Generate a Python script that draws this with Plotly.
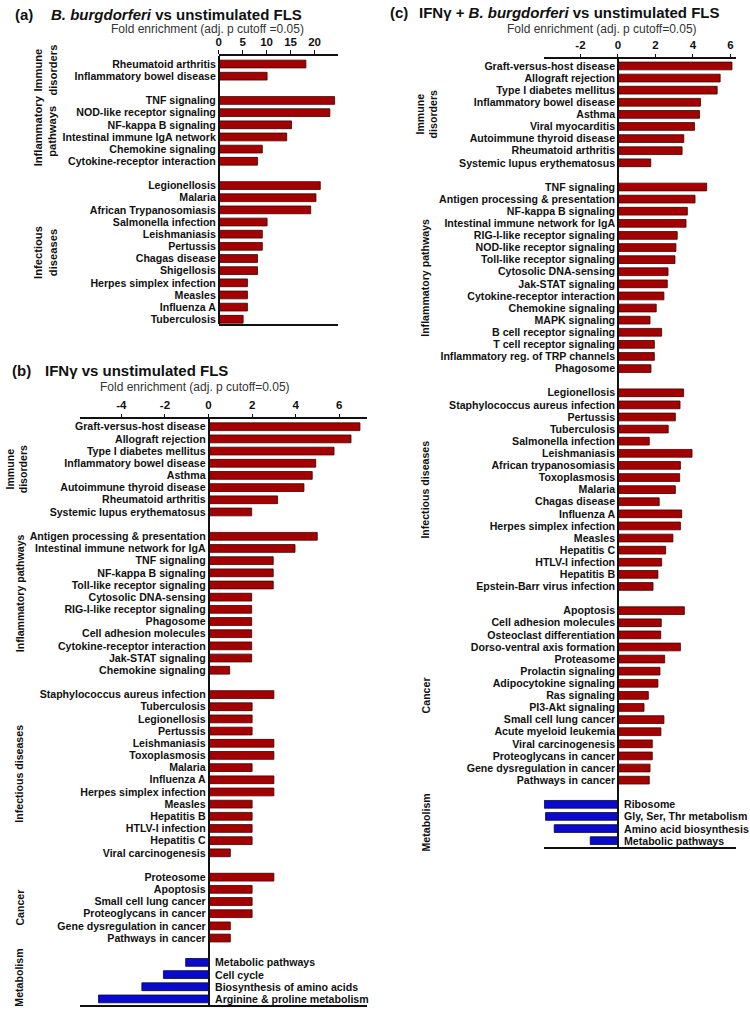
import plotly.graph_objects as go

# ---------------- DATA ----------------
# Panel (a): B. burgdorferi vs unstimulated FLS
a_immune_labels = ["Rheumatoid arthritis", "Inflammatory bowel disease"]
a_immune_values = [18.2, 10.1]
a_inflam_labels = ["TNF signaling", "NOD-like receptor signaling", "NF-kappa B signaling",
                   "Intestinal immune IgA network", "Chemokine signaling", "Cytokine-receptor interaction"]
a_inflam_values = [24.2, 23.2, 15.2, 14.2, 9.1, 8.1]
a_infect_labels = ["Legionellosis", "Malaria", "African Trypanosomiasis", "Salmonella infection",
                   "Leishmaniasis", "Pertussis", "Chagas disease", "Shigellosis",
                   "Herpes simplex infection", "Measles", "Influenza A", "Tuberculosis"]
a_infect_values = [21.2, 20.3, 19.2, 10.1, 9.1, 9.1, 8.1, 8.1, 6.0, 6.0, 6.0, 5.1]
a_xticks = [0, 5, 10, 15, 20]

# Panel (b): IFNγ vs unstimulated FLS
b_immune_labels = ["Graft-versus-host disease", "Allograft rejection", "Type I diabetes mellitus",
                   "Inflammatory bowel disease", "Asthma", "Autoimmune thyroid disease",
                   "Rheumatoid arthritis", "Systemic lupus erythematosus"]
b_immune_values = [6.95, 6.54, 5.76, 4.92, 4.76, 4.38, 3.17, 1.98]
b_inflam_labels = ["Antigen processing & presentation", "Intestinal immune network for IgA",
                   "TNF signaling", "NF-kappa B signaling", "Toll-like receptor signaling",
                   "Cytosolic DNA-sensing", "RIG-I-like receptor signaling", "Phagosome",
                   "Cell adhesion molecules", "Cytokine-receptor interaction", "Jak-STAT signaling",
                   "Chemokine signaling"]
b_inflam_values = [4.99, 3.97, 2.97, 2.97, 2.97, 1.98, 1.98, 1.98, 1.98, 1.98, 1.98, 0.97]
b_infect_labels = ["Staphylococcus aureus infection", "Tuberculosis", "Legionellosis", "Pertussis",
                   "Leishmaniasis", "Toxoplasmosis", "Malaria", "Influenza A",
                   "Herpes simplex infection", "Measles", "Hepatitis B", "HTLV-I infection",
                   "Hepatitis C", "Viral carcinogenesis"]
b_infect_values = [3.0, 2.0, 2.0, 2.0, 3.0, 3.0, 2.0, 3.0, 3.0, 2.0, 2.0, 2.0, 2.0, 1.0]
b_cancer_labels = ["Proteosome", "Apoptosis", "Small cell lung cancer", "Proteoglycans in cancer",
                   "Gene dysregulation in cancer", "Pathways in cancer"]
b_cancer_values = [3.0, 2.0, 2.0, 2.0, 1.0, 1.0]
b_metab_labels = ["Metabolic pathways", "Cell cycle", "Biosynthesis of amino acids",
                  "Arginine & proline metabolism"]
b_metab_values = [-1.05, -2.07, -3.06, -5.05]
b_xticks = [-4, -2, 0, 2, 4, 6]

# Panel (c): IFNγ + B. burgdorferi vs unstimulated FLS
c_immune_labels = ["Graft-versus-host disease", "Allograft rejection", "Type I diabetes mellitus",
                   "Inflammatory bowel disease", "Asthma", "Viral myocarditis",
                   "Autoimmune thyroid disease", "Rheumatoid arthritis", "Systemic lupus erythematosus"]
c_immune_values = [6.08, 5.45, 5.29, 4.4, 4.35, 4.08, 3.51, 3.42, 1.75]
c_inflam_labels = ["TNF signaling", "Antigen processing & presentation", "NF-kappa B signaling",
                   "Intestinal immune network for IgA", "RIG-I-like receptor signaling",
                   "NOD-like receptor signaling", "Toll-like receptor signaling", "Cytosolic DNA-sensing",
                   "Jak-STAT signaling", "Cytokine-receptor interaction", "Chemokine signaling",
                   "MAPK signaling", "B cell receptor signaling", "T cell receptor signaling",
                   "Inflammatory reg. of TRP channels", "Phagosome"]
c_inflam_values = [4.73, 4.11, 3.70, 3.63, 3.16, 3.09, 3.04, 2.67, 2.63, 2.45, 2.04, 1.71, 2.33,
                   1.94, 1.94, 1.76]
c_infect_labels = ["Legionellosis", "Staphylococcus aureus infection", "Pertussis", "Tuberculosis",
                   "Salmonella infection", "Leishmaniasis", "African trypanosomiasis", "Toxoplasmosis",
                   "Malaria", "Chagas disease", "Influenza A", "Herpes simplex infection", "Measles",
                   "Hepatitis C", "HTLV-I infection", "Hepatitis B", "Epstein-Barr virus infection"]
c_infect_values = [3.50, 3.31, 3.06, 2.68, 1.67, 3.95, 3.33, 3.29, 3.06, 2.20, 3.40, 3.33, 2.93,
                   2.54, 2.33, 2.13, 1.87]
c_cancer_labels = ["Apoptosis", "Cell adhesion molecules", "Osteoclast differentiation",
                   "Dorso-ventral axis formation", "Proteasome", "Prolactin signaling",
                   "Adipocytokine signaling", "Ras signaling", "PI3-Akt signaling",
                   "Small cell lung cancer", "Acute myeloid leukemia", "Viral carcinogenesis",
                   "Proteoglycans in cancer", "Gene dysregulation in cancer", "Pathways in cancer"]
c_cancer_values = [3.54, 2.31, 2.28, 3.33, 2.49, 2.24, 2.13, 1.62, 1.39, 2.45, 2.29, 1.83, 1.83,
                   1.71, 1.67]
c_metab_labels = ["Ribosome", "Gly, Ser, Thr metabolism", "Amino acid biosynthesis",
                  "Metabolic pathways"]
c_metab_values = [-3.93, -3.86, -3.40, -1.48]
c_xticks = [-2, 0, 2, 4, 6]

# ---------------- LAYOUT HELPERS ----------------
W, H = 750, 1012
FONT = "Liberation Sans, Arial, sans-serif"
RED, RED_LINE = "#a50000", "#3c0000"
BLUE, BLUE_LINE = "#0a0acd", "#000050"


def px(x):
    return x / W


def py(y):
    return 1 - y / H


fig = go.Figure()
annotations = []

panels = [
    dict(key="", groups=[("Immune<br>disorders", a_immune_labels, a_immune_values, False),
                         ("Inflammatory<br>pathways", a_inflam_labels, a_inflam_values, False),
                         ("Infectious<br>diseases", a_infect_labels, a_infect_values, False)],
         xticks=a_xticks, xrange=[0, 24.9], xdom=(218.7, 338.0), ydom=(56.0, 324.0),
         pad_top=0.66, pad_bot=0.39, grp_x=[45.5, 45.5, 45.5], grp_size=11.2, grp_shift=[0, 0, 0],
         label="(a)", label_xy=(13, 14), title="<i>B. burgdorferi</i> vs unstimulated FLS",
         title_x=49, axtitle="Fold enrichment (adj. p cutoff =0.05)", axtitle_xy=(207.5, 28.5)),
    dict(key="2", groups=[("Immune<br>disorders", b_immune_labels, b_immune_values, False),
                          ("Inflammatory pathways", b_inflam_labels, b_inflam_values, False),
                          ("Infectious diseases", b_infect_labels, b_infect_values, False),
                          ("Cancer", b_cancer_labels, b_cancer_values, False),
                          ("Metabolism", b_metab_labels, b_metab_values, True)],
         xticks=b_xticks, xrange=[-5.9, 7.26], xdom=(80.0, 366.7), ydom=(419.3, 1005.0),
         pad_top=0.61, pad_bot=0.5, grp_x=[17, 20, 19, 20, 19], grp_size=10.6,
         grp_shift=[0, 10, 0, 0, 3],
         label="(b)", label_xy=(10, 370), title="IFNγ vs unstimulated FLS",
         title_x=43, axtitle="Fold enrichment (adj. p cutoff=0.05)", axtitle_xy=(195, 387)),
    dict(key="3", groups=[("Immune<br>disorders", c_immune_labels, c_immune_values, False),
                          ("Inflammatory pathways", c_inflam_labels, c_inflam_values, False),
                          ("Infectious diseases", c_infect_labels, c_infect_values, False),
                          ("Cancer", c_cancer_labels, c_cancer_values, False),
                          ("Metabolism", c_metab_labels, c_metab_values, True)],
         xticks=c_xticks, xrange=[-3.95, 6.3], xdom=(543.9, 736.1), ydom=(59.3, 846.7),
         pad_top=0.55, pad_bot=0.5, grp_x=[427, 425, 425, 426, 426], grp_size=10.6,
         grp_shift=[0, 0, 0, 0, 0],
         label="(c)", label_xy=(388, 12), title="IFNγ + <i>B. burgdorferi</i> vs unstimulated FLS",
         title_x=416.7, axtitle="Fold enrichment (adj. p cutoff=0.05)", axtitle_xy=(601.7, 28.5)),
]

for p in panels:
    k = p["key"]
    xa, ya = "x" + k, "y" + k
    pos = 0
    tickvals, ticktext = [], []
    for gi, (gname, labels, values, is_metab) in enumerate(p["groups"]):
        ys = list(range(pos, pos + len(labels)))
        pos += len(labels) + 1
        fig.add_trace(go.Bar(
            x=values, y=ys, orientation="h", xaxis=xa, yaxis=ya, width=0.64,
            marker=dict(color=BLUE if is_metab else RED,
                        line=dict(color=BLUE_LINE if is_metab else RED_LINE, width=0.8)),
            showlegend=False, hoverinfo="skip"))
        tickvals += ys
        if is_metab:
            ticktext += [""] * len(labels)
            for yv, lab in zip(ys, labels):
                annotations.append(dict(x=0, y=yv, xref=xa, yref=ya, text=lab, showarrow=False,
                                        xanchor="left", yanchor="middle", xshift=4,
                                        font=dict(family=FONT, size=10.6, color="#111",
                                                  weight="bold")))
        else:
            ticktext += labels
        annotations.append(dict(x=px(p["grp_x"][gi]), y=(ys[0] + ys[-1]) / 2, xref="paper",
                                yref=ya, text=gname, showarrow=False, textangle=-90,
                                xanchor="center", yanchor="middle", yshift=p["grp_shift"][gi],
                                font=dict(family=FONT, size=p["grp_size"], color="#111",
                                          weight="bold")))
    last_row = pos - 2
    zero_x = p["xdom"][0] + (0 - p["xrange"][0]) / (p["xrange"][1] - p["xrange"][0]) * (
        p["xdom"][1] - p["xdom"][0])
    fig.update_layout(**{
        "xaxis" + k: dict(domain=[px(p["xdom"][0]), px(p["xdom"][1])], range=p["xrange"],
                          side="top", anchor=ya, tickvals=p["xticks"],
                          ticktext=[str(v) for v in p["xticks"]], ticks="outside", ticklen=4,
                          tickwidth=1.2, tickcolor="#111", showline=True, mirror=True,
                          linecolor="#111", linewidth=1.5, showgrid=False, zeroline=False,
                          fixedrange=True, automargin=False,
                          tickfont=dict(family=FONT, size=11.5, color="#111", weight="bold")),
        "yaxis" + k: dict(domain=[py(p["ydom"][1]), py(p["ydom"][0])],
                          range=[last_row + p["pad_bot"], -p["pad_top"]],
                          anchor="free", position=px(zero_x), side="left",
                          tickvals=tickvals, ticktext=ticktext, ticks="",
                          showline=True, linecolor="#111", linewidth=1.5, showgrid=False,
                          zeroline=False, fixedrange=True, automargin=False,
                          tickfont=dict(family=FONT, size=10.6, color="#111", weight="bold")),
    })
    annotations.append(dict(x=px(p["label_xy"][0]), y=py(p["label_xy"][1]), xref="paper",
                            yref="paper", text=p["label"], showarrow=False, xanchor="left",
                            yanchor="middle",
                            font=dict(family=FONT, size=15, color="#111", weight="bold")))
    annotations.append(dict(x=px(p["title_x"]), y=py(p["label_xy"][1]), xref="paper",
                            yref="paper", text=p["title"], showarrow=False, xanchor="left",
                            yanchor="middle",
                            font=dict(family=FONT, size=15, color="#111", weight="bold")))
    annotations.append(dict(x=px(p["axtitle_xy"][0]), y=py(p["axtitle_xy"][1]), xref="paper",
                            yref="paper", text=p["axtitle"], showarrow=False, xanchor="center",
                            yanchor="middle", font=dict(family=FONT, size=12, color="#333")))

fig.update_layout(width=W, height=H, margin=dict(l=0, r=0, t=0, b=0),
                  paper_bgcolor="white", plot_bgcolor="white", bargap=0.3,
                  annotations=annotations, showlegend=False)

fig.write_html("out.html", config={"displayModeBar": False},
               post_script="document.body.style.margin='0px';"
                           "document.body.style.overflow='hidden';")
